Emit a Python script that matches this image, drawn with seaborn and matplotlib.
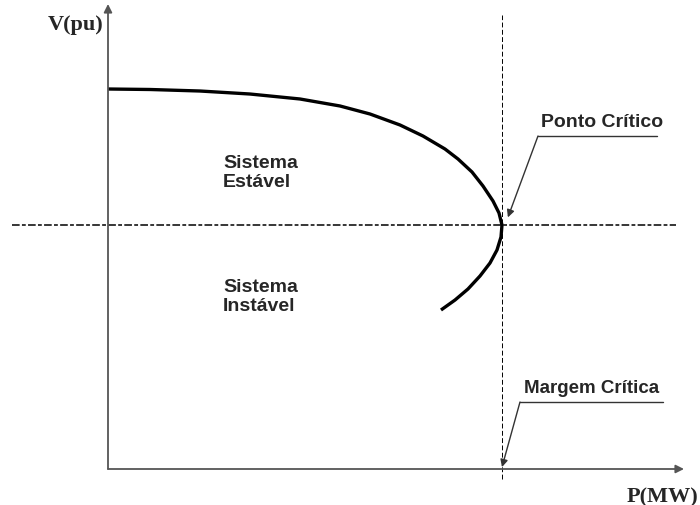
import numpy as np
import pandas as pd
import matplotlib
matplotlib.use("Agg")
import matplotlib.pyplot as plt
import seaborn as sns


# PV curve (P in % of critical load, V in pu)
P_curve = [0.00, 10.69, 23.41, 36.13, 48.85, 59.03, 66.67, 74.30, 80.15,
           85.75, 89.06, 92.62, 95.42, 97.96, 99.49, 100.25, 100.00, 98.98,
           97.20, 94.66, 91.60, 88.30, 84.73]
V_curve = [1.0000, 0.9987, 0.9947, 0.9868, 0.9737, 0.9553, 0.9342, 0.9053,
           0.8763, 0.8421, 0.8158, 0.7816, 0.7447, 0.7053, 0.6737, 0.6421,
           0.6105, 0.5763, 0.5421, 0.5079, 0.4737, 0.4447, 0.4184]

region_labels = ["Sistema\nEstável", "Sistema\nInstável"]
point_labels = ["Ponto Crítico", "Margem Crítica"]
axis_labels = ["P(MW)", "V(pu)"]


# picture pixel -> data units (only used for placing texts / leaders)
def px(x, y):
    return (x - 108) / 3.93, (470 - y) / 380


sns.set_theme(style="white")
plt.rcParams["font.family"] = ["Liberation Sans", "DejaVu Sans"]

fig = plt.figure(figsize=(7, 5.06), dpi=100)
ax = fig.add_axes([0, 0, 1, 1])
x0, y0 = px(0, 506)
x1, y1 = px(700, 0)
ax.set_xlim(x0, x1)
ax.set_ylim(y0, y1)
ax.axis("off")

df = pd.DataFrame({"P": P_curve, "V": V_curve})
i_crit = int(np.argmax(df["P"]))
P_crit = df["P"][i_crit]
V_crit = df["V"][i_crit]

# axes with arrows
ax.annotate("", xy=(0, px(0, 5)[1]), xytext=(0, 0),
            arrowprops=dict(arrowstyle="-|>", color="#555555", lw=1.3,
                            mutation_scale=12, shrinkA=0, shrinkB=0))
ax.annotate("", xy=(px(684, 0)[0], 0), xytext=(0, 0),
            arrowprops=dict(arrowstyle="-|>", color="#555555", lw=1.3,
                            mutation_scale=12, shrinkA=0, shrinkB=0))

# critical lines
ax.plot([px(12, 0)[0], px(676, 0)[0]], [V_crit, V_crit], color="black",
        lw=1.1, dashes=(5, 1.5, 2.5, 1.5))
ax.plot([P_crit, P_crit], [px(0, 480)[1], px(0, 16)[1]], color="black",
        lw=0.7, dashes=(5, 2.5))

# the PV curve
sns.lineplot(data=df, x="P", y="V", sort=False, estimator=None,
             color="black", lw=2.4, ax=ax,
             solid_joinstyle="round", solid_capstyle="butt")

# region texts
for label, (lx, ly) in zip(region_labels, [px(223, 187), px(223, 311)]):
    ax.text(lx, ly, label, fontsize=14, fontweight="bold", ha="left",
            va="baseline", multialignment="left", linespacing=1.15)

# leaders with arrows
leader_kw = dict(color="#333333", lw=1.0)
ax.plot([px(657, 0)[0], px(538, 0)[0]], [px(0, 137)[1]] * 2, **leader_kw)
ax.annotate("", xy=(P_crit + 1.5, V_crit + 0.02), xytext=px(538, 137),
            arrowprops=dict(arrowstyle="-|>", color="#333333", lw=1.0,
                            mutation_scale=11, shrinkA=0, shrinkB=0))
ax.plot([px(663, 0)[0], px(520, 0)[0]], [px(0, 403)[1]] * 2, **leader_kw)
ax.annotate("", xy=(P_crit, 0.005), xytext=px(520, 403),
            arrowprops=dict(arrowstyle="-|>", color="#333333", lw=1.0,
                            mutation_scale=11, shrinkA=0, shrinkB=0))

ax.text(*px(602, 127), point_labels[0], fontsize=14, fontweight="bold",
        ha="center", va="baseline")
ax.text(*px(592, 393), point_labels[1], fontsize=13.5, fontweight="bold",
        ha="center", va="baseline")

# axis titles (serif)
ax.text(*px(698, 502), axis_labels[0], fontsize=16, fontweight="bold",
        family=["Liberation Serif", "DejaVu Serif"], ha="right", va="baseline")
ax.text(*px(103, 30), axis_labels[1], fontsize=16, fontweight="bold",
        family=["Liberation Serif", "DejaVu Serif"], ha="right", va="baseline")

fig.savefig("out.png", dpi=100, facecolor="white")
